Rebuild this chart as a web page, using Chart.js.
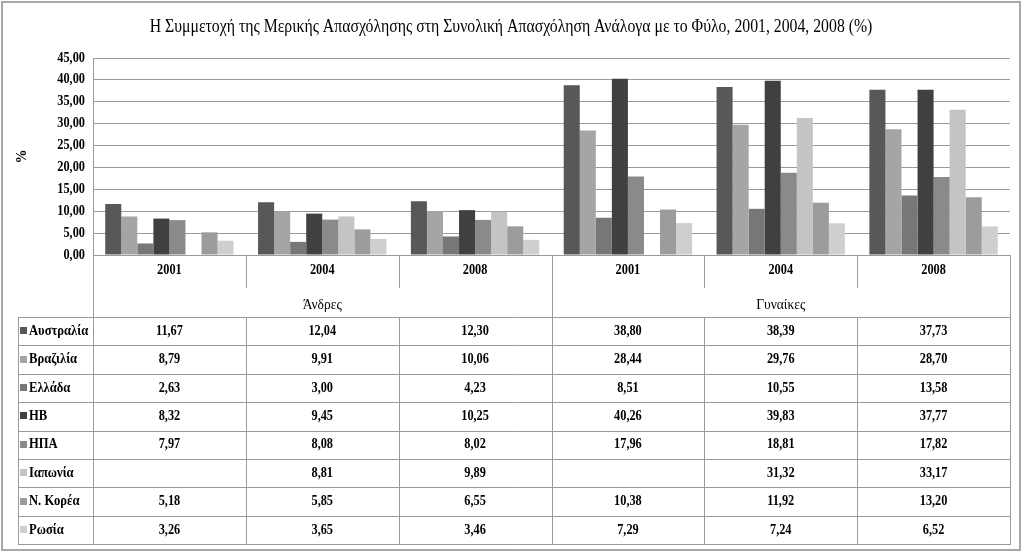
<!DOCTYPE html>
<html>
<head>
<meta charset="utf-8">
<script src="https://cdn.jsdelivr.net/npm/chart.js@4"></script>
<style>
  html, body { margin: 0; padding: 0; background: #fff; }
  #wrap { width: 1024px; height: 554px; }
</style>
</head>
<body>
<div id="wrap"><canvas id="myChart" width="1024" height="554"></canvas></div>
<script>
// Categories (year) and groups (gender)
const years = ['2001', '2004', '2008', '2001', '2004', '2008'];
const genders = ['Άνδρες', 'Γυναίκες'];

// Series names and values (%), null = no data
const countries = ['Αυστραλία', 'Βραζιλία', 'Ελλάδα', 'ΗΒ', 'ΗΠΑ', 'Ιαπωνία', 'Ν. Κορέα', 'Ρωσία'];
const australia = [11.67, 12.04, 12.30, 38.80, 38.39, 37.73];
const brazil    = [8.79, 9.91, 10.06, 28.44, 29.76, 28.70];
const greece    = [2.63, 3.00, 4.23, 8.51, 10.55, 13.58];
const uk        = [8.32, 9.45, 10.25, 40.26, 39.83, 37.77];
const usa       = [7.97, 8.08, 8.02, 17.96, 18.81, 17.82];
const japan     = [null, 8.81, 9.89, null, 31.32, 33.17];
const korea     = [5.18, 5.85, 6.55, 10.38, 11.92, 13.20];
const russia    = [3.26, 3.65, 3.46, 7.29, 7.24, 6.52];
const seriesValues = [australia, brazil, greece, uk, usa, japan, korea, russia];

// Grey shades for each country
const colors = ['#585858', '#a5a5a5', '#777777', '#404040', '#8a8a8a', '#c4c4c4', '#9c9c9c', '#cfcfcf'];

const titleText = 'Η Συμμετοχή της Μερικής Απασχόλησης στη Συνολική Απασχόληση Ανάλογα με το Φύλο, 2001, 2004, 2008 (%)';
const fontFamily = '"Liberation Serif", "Times New Roman", serif';
const lineColor = '#9a9a9a';

// format numbers Greek style: 12,30
function fmt(v) {
    return v === null ? '' : v.toFixed(2).replace('.', ',');
}

// text squeezed horizontally, like the narrow Times of the original
function squeezeText(ctx, text, x, y, font, align, sx) {
    ctx.save();
    ctx.font = font;
    ctx.textAlign = align;
    ctx.textBaseline = 'middle';
    ctx.translate(x, y);
    ctx.scale(sx, 1);
    ctx.fillText(text, 0, 0);
    ctx.restore();
}

// Draws the title, tick labels, category header and the data table
const tablePlugin = {
    id: 'dataTable',
    afterDraw(chart) {
        const ctx = chart.ctx;
        const area = chart.chartArea;
        const yScale = chart.scales.y;
        const n = years.length;
        const colW = (area.right - area.left) / n;
        const tableLeft = 18;
        const headTop = area.bottom;
        const tableTop = 317;
        const rowH = 28.4;
        const tableBottom = tableTop + rowH * countries.length;
        const boldFont = 'bold 14px ' + fontFamily;

        ctx.save();

        // outer frame
        ctx.strokeStyle = '#a8a8a8';
        ctx.lineWidth = 2;
        ctx.strokeRect(2, 2, 1018, 548);

        // title
        ctx.fillStyle = '#000';
        squeezeText(ctx, titleText, 511, 27, '19px ' + fontFamily, 'center', 0.83);

        // y tick labels
        yScale.ticks.forEach(t => {
            squeezeText(ctx, fmt(t.value), 85, yScale.getPixelForValue(t.value), boldFont, 'right', 0.88);
        });

        ctx.strokeStyle = lineColor;
        ctx.lineWidth = 1;

        // vertical lines of header and table
        ctx.beginPath();
        ctx.moveTo(area.left + 0.5, area.top);
        ctx.lineTo(area.left + 0.5, tableBottom);
        ctx.moveTo(area.right + 0.5, headTop);
        ctx.lineTo(area.right + 0.5, tableBottom);
        ctx.moveTo(tableLeft + 0.5, tableTop);
        ctx.lineTo(tableLeft + 0.5, tableBottom);
        for (let i = 1; i < n; i++) {
            const x = Math.round(area.left + i * colW) + 0.5;
            ctx.moveTo(x, i === 3 ? headTop : tableTop);
            ctx.lineTo(x, tableBottom);
            if (i !== 3) {
                ctx.moveTo(x, headTop);
                ctx.lineTo(x, headTop + 33);
            }
        }
        // horizontal row lines
        for (let r = 0; r <= countries.length; r++) {
            const y = Math.round(tableTop + r * rowH) + 0.5;
            ctx.moveTo(tableLeft, y);
            ctx.lineTo(area.right + 1, y);
        }
        ctx.stroke();

        // year labels and gender labels
        ctx.fillStyle = '#000';
        years.forEach((y, i) => {
            squeezeText(ctx, y, area.left + (i + 0.5) * colW, headTop + 15, boldFont, 'center', 0.88);
        });
        genders.forEach((g, i) => {
            squeezeText(ctx, g, area.left + (i * 3 + 1.5) * colW, headTop + 50, '15px ' + fontFamily, 'center', 0.9);
        });

        // table rows
        countries.forEach((c, r) => {
            const yMid = tableTop + (r + 0.5) * rowH;
            ctx.fillStyle = colors[r];
            ctx.fillRect(20, Math.round(yMid - 4), 7, 7);
            ctx.fillStyle = '#000';
            squeezeText(ctx, c, 29, yMid, boldFont, 'left', 0.9);
            seriesValues[r].forEach((v, i) => {
                squeezeText(ctx, fmt(v), area.left + (i + 0.5) * colW, yMid, boldFont, 'center', 0.88);
            });
        });

        ctx.restore();
    }
};

function createChart() {
    const ctx = document.getElementById('myChart');

    // one dataset per country
    const datasets = countries.map((c, i) => ({
        label: c,
        data: seriesValues[i],
        backgroundColor: colors[i],
        borderWidth: 0,
        categoryPercentage: 0.84,
        barPercentage: 1.0
    }));

    new Chart(ctx, {
        type: 'bar',
        data: { labels: years, datasets: datasets },
        options: {
            responsive: false,
            animation: false,
            layout: {
                padding: { left: 0, right: 14, top: 58, bottom: 299 }
            },
            scales: {
                x: { display: false },
                y: {
                    min: 0,
                    max: 45,
                    afterFit(scale) { scale.width = 93; },
                    ticks: {
                        stepSize: 5,
                        display: false
                    },
                    grid: { color: lineColor, drawTicks: false },
                    border: { display: true, color: lineColor },
                    title: {
                        display: true,
                        text: '%',
                        color: '#000',
                        padding: { top: 14, bottom: 0 },
                        font: { family: fontFamily, size: 14, weight: 'bold' }
                    }
                }
            },
            plugins: {
                legend: { display: false },
                title: { display: false },
                tooltip: { enabled: false }
            }
        },
        plugins: [tablePlugin]
    });
}
createChart();
</script>
</body>
</html>
